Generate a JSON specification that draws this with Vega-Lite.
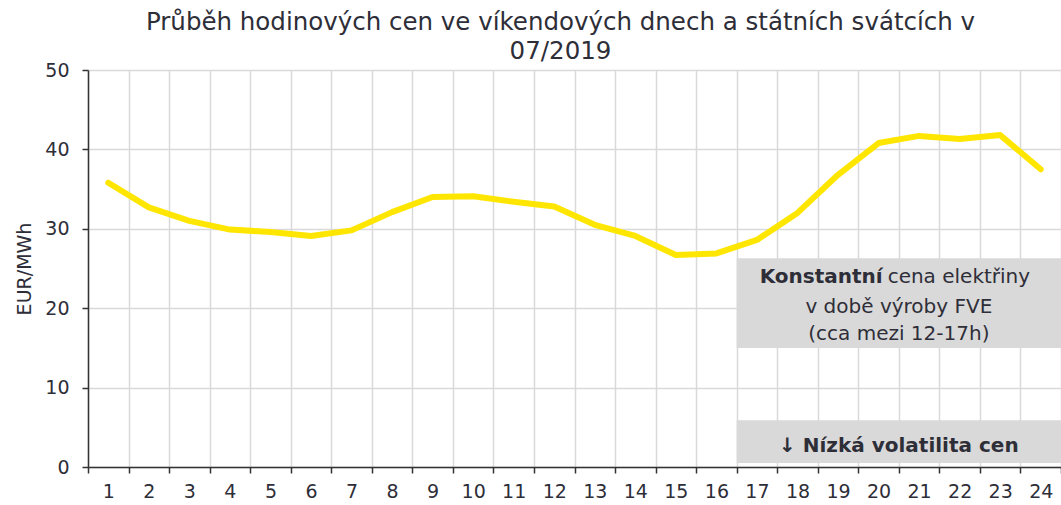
{
  "$schema": "https://vega.github.io/schema/vega-lite/v6.json",
  "width": 973,
  "height": 397,
  "autosize": {"type": "none"},
  "padding": {"left": 88, "top": 70, "right": 0, "bottom": 38},
  "background": "white",
  "title": {
    "text": ["Průběh hodinových cen ve víkendových dnech a státních svátcích v", "07/2019"],
    "font": "DejaVu Sans",
    "fontSize": 24.5,
    "fontWeight": "normal",
    "color": "#2e2e38",
    "anchor": "middle",
    "lineHeight": 29,
    "offset": -3,
    "dx": -14
  },
  "datasets": {
    "prices": [
      {"h": 1, "v": 35.8}, {"h": 2, "v": 32.7}, {"h": 3, "v": 31.0}, {"h": 4, "v": 29.9},
      {"h": 5, "v": 29.6}, {"h": 6, "v": 29.1}, {"h": 7, "v": 29.8}, {"h": 8, "v": 32.1},
      {"h": 9, "v": 34.0}, {"h": 10, "v": 34.1}, {"h": 11, "v": 33.4}, {"h": 12, "v": 32.8},
      {"h": 13, "v": 30.5}, {"h": 14, "v": 29.1}, {"h": 15, "v": 26.7}, {"h": 16, "v": 26.9},
      {"h": 17, "v": 28.6}, {"h": 18, "v": 32.0}, {"h": 19, "v": 36.8}, {"h": 20, "v": 40.8},
      {"h": 21, "v": 41.7}, {"h": 22, "v": 41.3}, {"h": 23, "v": 41.8}, {"h": 24, "v": 37.5}
    ],
    "boxes": [
      {"x1": 16.5, "x2": 24.5, "y1": 15.0, "y2": 26.3},
      {"x1": 16.5, "x2": 24.5, "y1": 0.5, "y2": 5.9}
    ],
    "centered": [
      {"x": 20.5, "y": 19.4, "t": "v době výroby FVE"},
      {"x": 20.5, "y": 15.95, "t": "(cca mezi 12-17h)"}
    ],
    "boldcentered": [
      {"x": 20.5, "y": 1.95, "t": "↓ Nízká volatilita cen"}
    ],
    "boldpart": [{"x": 20.15, "y": 23.2, "t": "Konstantní"}],
    "normalpart": [{"x": 20.15, "y": 23.2, "t": "cena elektřiny"}]
  },
  "layer": [
    {
      "data": {"name": "prices"},
      "mark": {"type": "line", "color": "#FFE600", "strokeWidth": 6, "strokeCap": "round", "strokeJoin": "round"},
      "encoding": {
        "x": {
          "field": "h", "type": "ordinal",
          "scale": {"paddingInner": 0, "paddingOuter": 0},
          "axis": {
            "title": null, "labelAngle": 0, "tickBand": "extent", "grid": true,
            "gridColor": "#d9d9d9", "gridWidth": 1.5,
            "domainColor": "#333333", "domainWidth": 1.5,
            "tickColor": "#333333", "tickWidth": 1.5, "tickSize": 6,
            "labelFont": "DejaVu Sans", "labelFontSize": 19, "labelColor": "#2e2e38", "labelPadding": 9
          }
        },
        "y": {
          "field": "v", "type": "quantitative",
          "scale": {"domain": [0, 50], "nice": false},
          "axis": {
            "title": "EUR/MWh", "values": [0, 10, 20, 30, 40, 50],
            "gridColor": "#d9d9d9", "gridWidth": 1.5,
            "domainColor": "#333333", "domainWidth": 1.5,
            "tickColor": "#333333", "tickWidth": 1.5, "tickSize": 6,
            "labelFont": "DejaVu Sans", "labelFontSize": 19, "labelColor": "#2e2e38", "labelPadding": 13,
            "titleFont": "DejaVu Sans", "titleFontSize": 19, "titleFontWeight": "normal", "titleColor": "#2e2e38", "titlePadding": 10
          }
        }
      }
    },
    {
      "data": {"name": "boxes"},
      "mark": {"type": "rect", "color": "#d9d9d9"},
      "encoding": {
        "x": {"field": "x1", "type": "quantitative", "scale": {"domain": [0.5, 24.5], "nice": false, "zero": false}, "axis": null},
        "x2": {"field": "x2"},
        "y": {"field": "y1", "type": "quantitative"},
        "y2": {"field": "y2"}
      }
    },
    {
      "data": {"name": "centered"},
      "mark": {"type": "text", "font": "DejaVu Sans", "fontSize": 20, "color": "#2e2e38", "align": "center", "baseline": "alphabetic"},
      "encoding": {
        "x": {"field": "x", "type": "quantitative", "scale": {"domain": [0.5, 24.5], "nice": false, "zero": false}, "axis": null},
        "y": {"field": "y", "type": "quantitative"},
        "text": {"field": "t"}
      }
    },
    {
      "data": {"name": "boldcentered"},
      "mark": {"type": "text", "font": "DejaVu Sans", "fontSize": 20, "fontWeight": "bold", "color": "#2e2e38", "align": "center", "baseline": "alphabetic"},
      "encoding": {
        "x": {"field": "x", "type": "quantitative", "scale": {"domain": [0.5, 24.5], "nice": false, "zero": false}, "axis": null},
        "y": {"field": "y", "type": "quantitative"},
        "text": {"field": "t"}
      }
    },
    {
      "data": {"name": "boldpart"},
      "mark": {"type": "text", "font": "DejaVu Sans", "fontSize": 20, "fontWeight": "bold", "color": "#2e2e38", "align": "right", "baseline": "alphabetic", "dx": -2},
      "encoding": {
        "x": {"field": "x", "type": "quantitative", "scale": {"domain": [0.5, 24.5], "nice": false, "zero": false}, "axis": null},
        "y": {"field": "y", "type": "quantitative"},
        "text": {"field": "t"}
      }
    },
    {
      "data": {"name": "normalpart"},
      "mark": {"type": "text", "font": "DejaVu Sans", "fontSize": 20, "color": "#2e2e38", "align": "left", "baseline": "alphabetic", "dx": 3},
      "encoding": {
        "x": {"field": "x", "type": "quantitative", "scale": {"domain": [0.5, 24.5], "nice": false, "zero": false}, "axis": null},
        "y": {"field": "y", "type": "quantitative"},
        "text": {"field": "t"}
      }
    }
  ],
  "resolve": {"scale": {"x": "independent"}, "axis": {"x": "independent"}},
  "config": {"view": {"stroke": null}}
}
